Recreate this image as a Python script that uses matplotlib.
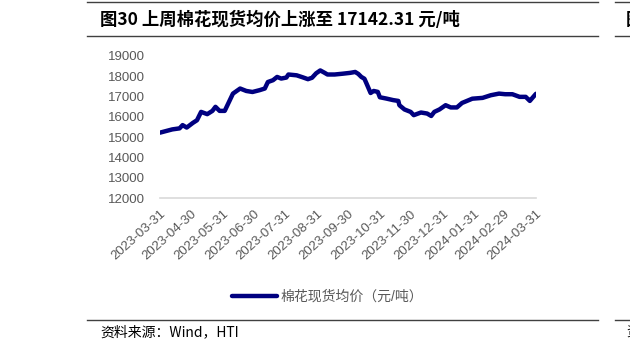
import matplotlib
matplotlib.use("Agg")
import matplotlib.pyplot as plt
import matplotlib.dates as mdates
import pandas as pd
from matplotlib.lines import Line2D

plt.rcParams['font.family'] = ['Liberation Sans', 'Noto Sans CJK SC', 'DejaVu Sans']

# cotton spot average price
dates = ["2023-03-31", "2023-04-12", "2023-04-19", "2023-04-22", "2023-04-26",
         "2023-05-02", "2023-05-06", "2023-05-10", "2023-05-16", "2023-05-21",
         "2023-05-24", "2023-05-28", "2023-06-02", "2023-06-10", "2023-06-17",
         "2023-06-23", "2023-06-29", "2023-07-06", "2023-07-11", "2023-07-14",
         "2023-07-19", "2023-07-23", "2023-07-27", "2023-08-01", "2023-08-03",
         "2023-08-11", "2023-08-17", "2023-08-22", "2023-08-26", "2023-08-30",
         "2023-09-03", "2023-09-07", "2023-09-10", "2023-09-17", "2023-09-25",
         "2023-10-02", "2023-10-07", "2023-10-10", "2023-10-13", "2023-10-16",
         "2023-10-18", "2023-10-22", "2023-10-25", "2023-10-29", "2023-10-31",
         "2023-11-06", "2023-11-13", "2023-11-18", "2023-11-19", "2023-11-24",
         "2023-11-30", "2023-12-03", "2023-12-10", "2023-12-16", "2023-12-20",
         "2023-12-23", "2023-12-28", "2024-01-03", "2024-01-08", "2024-01-14",
         "2024-01-19", "2024-01-29", "2024-02-08", "2024-02-16", "2024-02-24",
         "2024-03-01", "2024-03-08", "2024-03-15", "2024-03-21", "2024-03-25",
         "2024-03-27", "2024-03-31"]
prices = [15230, 15390, 15440, 15600, 15480,
          15710, 15840, 16250, 16140, 16300,
          16500, 16300, 16300, 17150, 17400,
          17280, 17230, 17320, 17400, 17720,
          17810, 17970, 17890, 17940, 18090,
          18050, 17950, 17860, 17930, 18150,
          18290, 18180, 18090, 18090, 18130,
          18170, 18215, 18120, 17970, 17880,
          17650, 17180, 17280, 17235, 16970,
          16910, 16830, 16790, 16580, 16370,
          16250, 16090, 16220, 16170, 16050,
          16250, 16370, 16580, 16470, 16470,
          16690, 16900, 16940, 17070, 17150,
          17120, 17120, 16990, 16990, 16790,
          16910, 17142.31]
tick_labels = ["2023-03-31", "2023-04-30", "2023-05-31", "2023-06-30", "2023-07-31",
               "2023-08-31", "2023-09-30", "2023-10-31", "2023-11-30", "2023-12-31",
               "2024-01-31", "2024-02-29", "2024-03-31"]
y_ticks = [12000, 13000, 14000, 15000, 16000, 17000, 18000, 19000]

title = "图30 上周棉花现货均价上涨至 17142.31 元/吨"
series_name = "棉花现货均价（元/吨）"
source = "资料来源：Wind，HTI"

W, H = 630, 354
fig = plt.figure(figsize=(W / 100, H / 100), dpi=100)


def fx(px):
    return px / W


def fy(py):
    return 1 - py / H


ax = fig.add_axes([fx(160), fy(198.3), fx(536) - fx(160), fy(56) - fy(198.3)])
x = pd.to_datetime(dates)
ax.plot(x, prices, color='#000080', lw=3.2, solid_capstyle='round',
        solid_joinstyle='round', label=series_name)

ax.set_xlim(pd.Timestamp("2023-03-31"), pd.Timestamp("2024-03-31"))
ax.set_ylim(12000, 19000)
ax.set_yticks(y_ticks)
ax.set_xticks(pd.to_datetime(tick_labels))
ax.set_xticklabels(tick_labels, rotation=42, ha='right', rotation_mode='anchor')
ax.tick_params(axis='both', length=0, colors='#595959', labelsize=9.5)
ax.tick_params(axis='y', pad=11)
ax.tick_params(axis='x', pad=7)
for s in ['top', 'right', 'left']:
    ax.spines[s].set_visible(False)
ax.spines['bottom'].set_color('#d9d9d9')
ax.spines['bottom'].set_linewidth(1.2)

leg = ax.legend(loc='center', bbox_to_anchor=(fx(328), fy(297)),
                bbox_transform=fig.transFigure, frameon=False,
                handlelength=3.2, fontsize=10, handletextpad=0.3,
                labelcolor='#595959')

# header / footer rules
for yy in [2, 36, 320]:
    fig.add_artist(Line2D([fx(87), fx(598)], [fy(yy), fy(yy)], color='#404040', lw=1))
    fig.add_artist(Line2D([fx(615), fx(630)], [fy(yy), fy(yy)], color='#404040', lw=1))

fig.text(fx(100), fy(20), title, fontsize=12.5, fontweight='bold', va='center',
         family=['Noto Sans CJK SC', 'DejaVu Sans'], color='black')
fig.text(fx(626), fy(20), "图", fontsize=12.5, fontweight='bold', va='center',
         family=['Noto Sans CJK SC'], color='black')
fig.text(fx(100), fy(332), source, fontsize=10, va='center',
         family=['Noto Sans CJK SC', 'DejaVu Sans'], color='black')
fig.text(fx(626), fy(332), "资", fontsize=10, va='center',
         family=['Noto Sans CJK SC'], color='black')

fig.savefig("out.png", dpi=100)
